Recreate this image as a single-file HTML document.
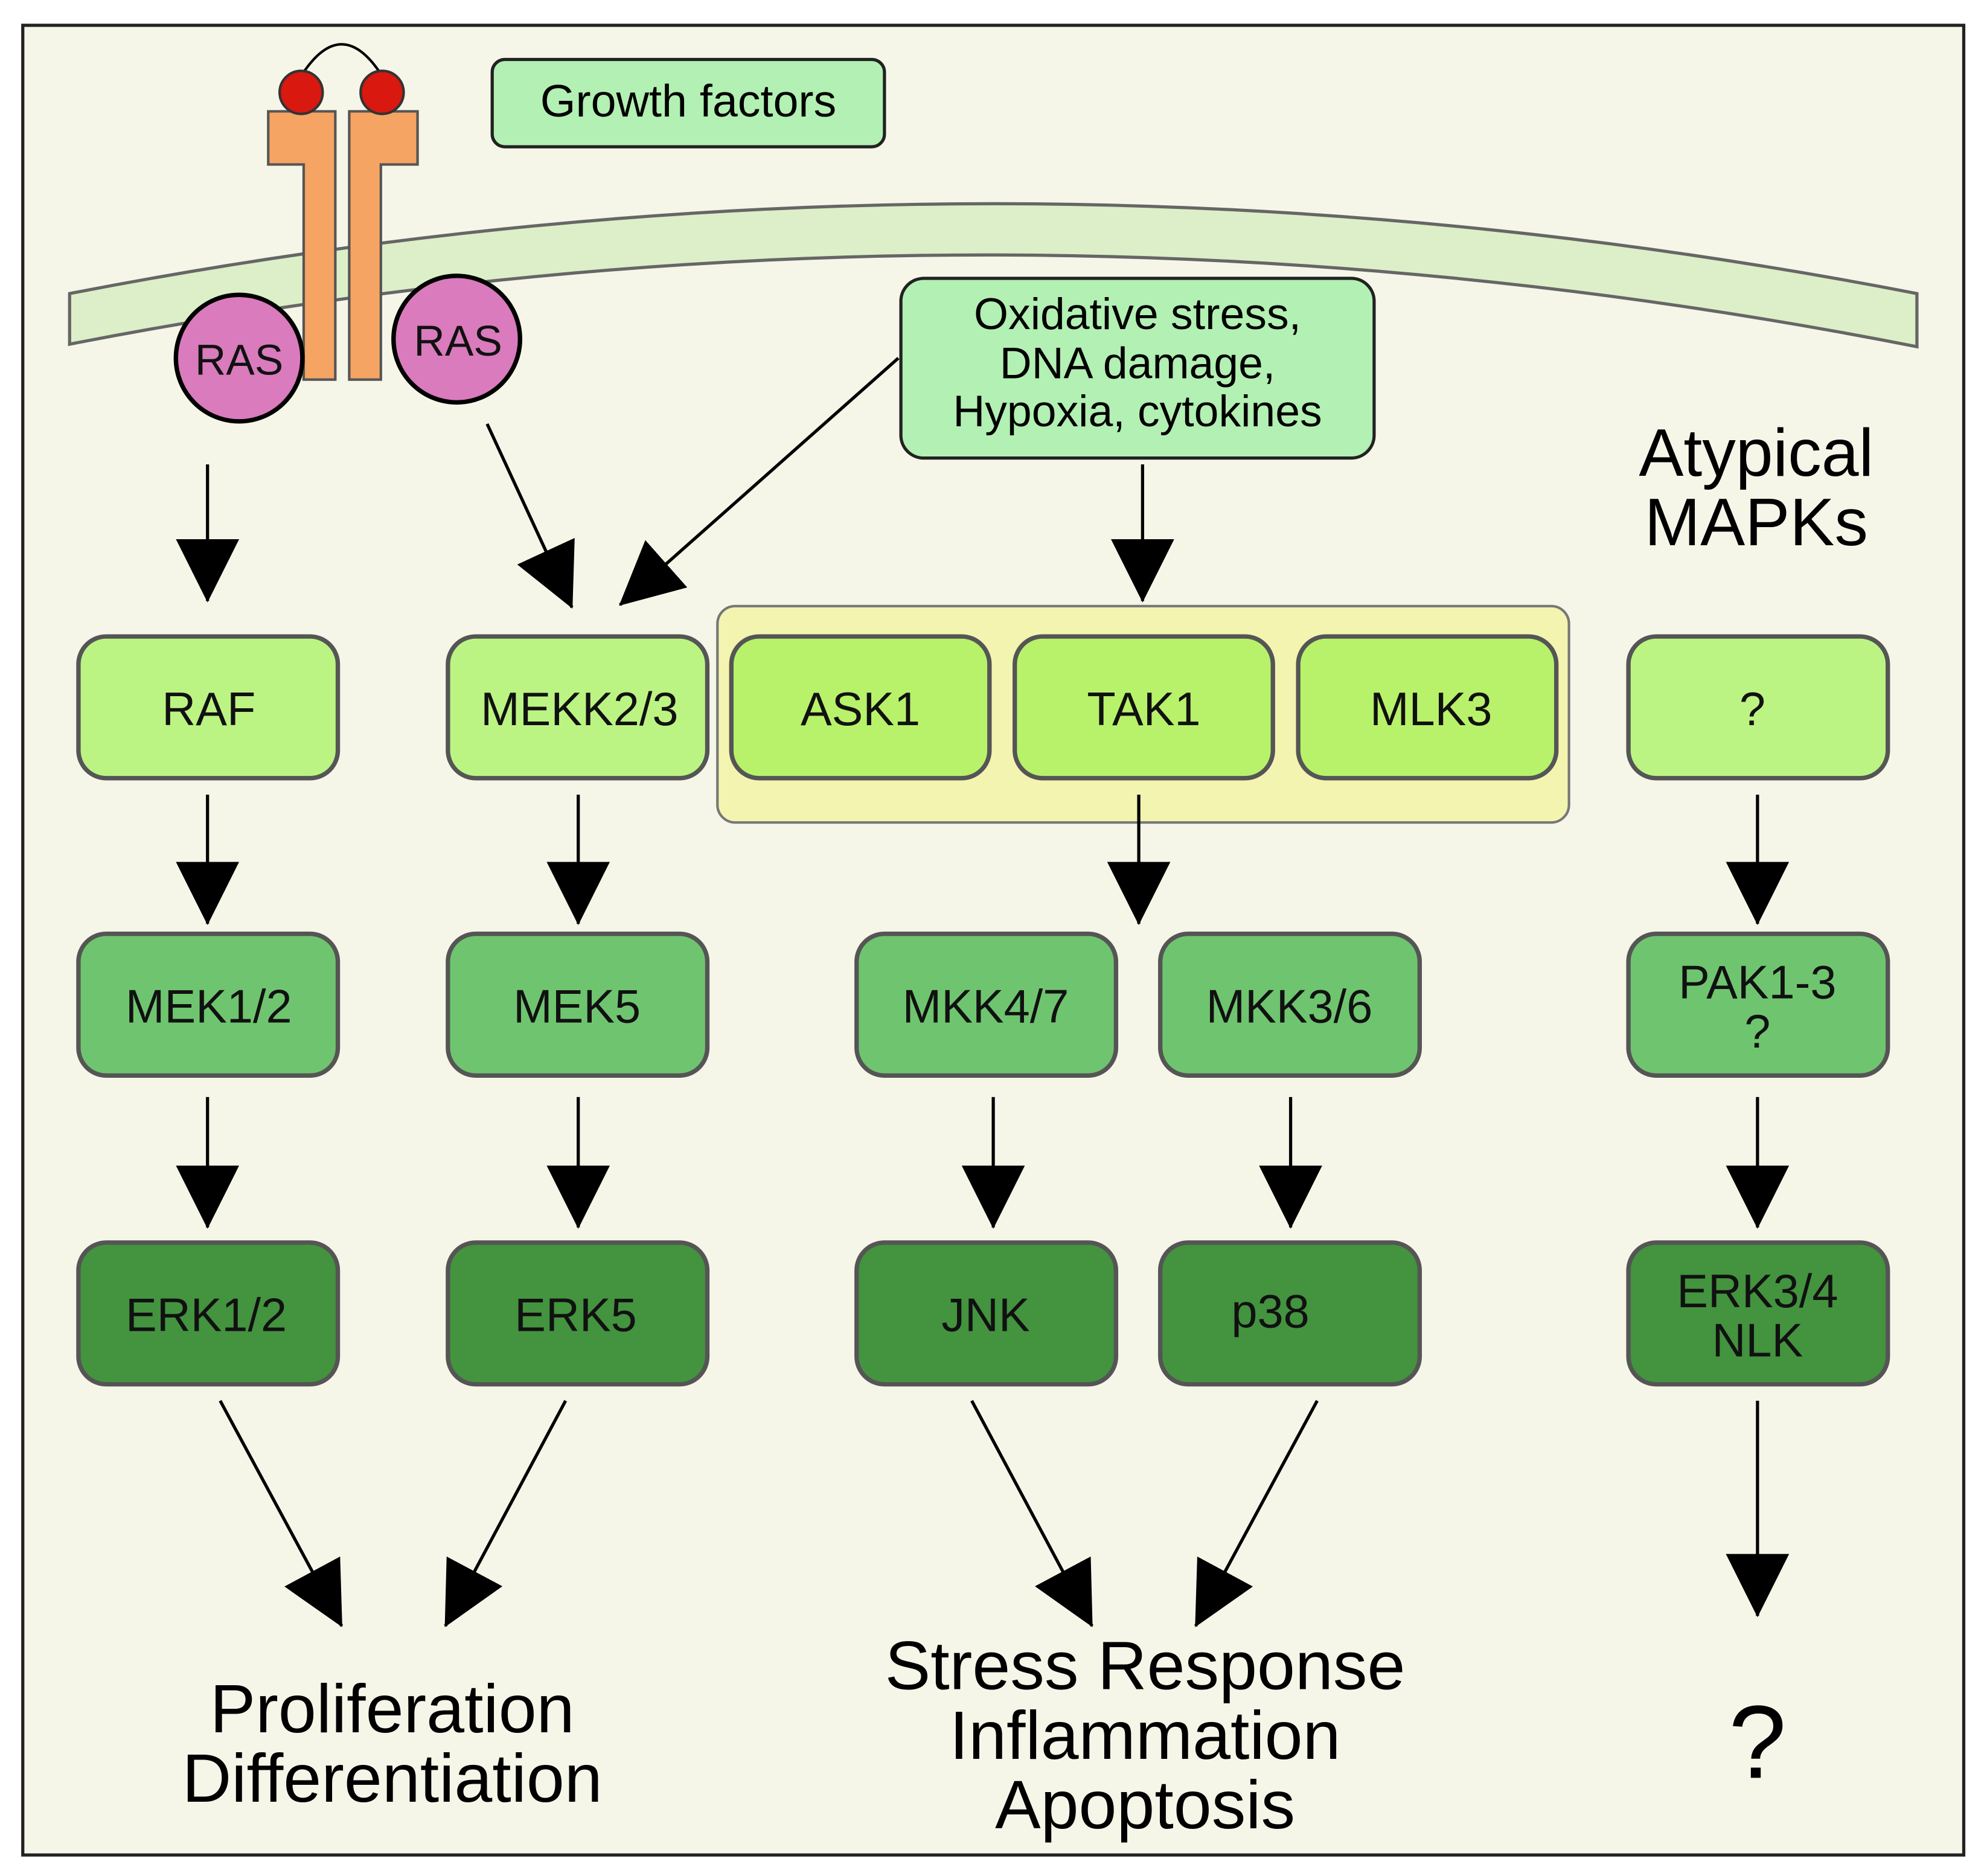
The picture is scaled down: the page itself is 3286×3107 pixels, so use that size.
<!DOCTYPE html>
<html><head><meta charset="utf-8"><style>html,body{margin:0;padding:0;background:#fff}svg{display:block}</style></head><body>
<svg width="3286" height="3107" viewBox="0 0 1568 1482.6" xmlns="http://www.w3.org/2000/svg" font-family="Liberation Sans, sans-serif">
<defs>
<marker id="a" markerUnits="userSpaceOnUse" markerWidth="50" markerHeight="50" viewBox="0 0 46 46" refX="45" refY="23" orient="auto"><path d="M0,0 L46,23 L0,46 z" fill="#000"/></marker>
</defs>
<rect x="18" y="20" width="1534" height="1446" fill="#f5f6e8" stroke="#222" stroke-width="2.5"/>
<path d="M55,232 Q785,90 1515,232 L1515,274 Q785,130 55,272 Z" fill="#dcefc8" stroke="#666" stroke-width="2.5"/>
<path d="M238,60 Q270,10 302,60" fill="none" stroke="#000" stroke-width="2"/>
<path d="M212,88 H265 V300 H240 V130 H212 Z" fill="#f6a463" stroke="#555" stroke-width="2"/>
<path d="M330,88 H276 V300 H301 V130 H330 Z" fill="#f6a463" stroke="#555" stroke-width="2"/>
<circle cx="238" cy="73" r="17" fill="#d9180f" stroke="#333" stroke-width="2"/>
<circle cx="302" cy="73" r="17" fill="#d9180f" stroke="#333" stroke-width="2"/>
<circle cx="189" cy="283" r="50" fill="#d97bbd" stroke="#000" stroke-width="3.5"/>
<circle cx="361" cy="268" r="50" fill="#d97bbd" stroke="#000" stroke-width="3.5"/>
<g font-size="34" text-anchor="middle" fill="#111">
<text x="189" y="296">RAS</text><text x="362" y="281">RAS</text>
</g>
<rect x="389" y="47" width="310" height="69" rx="10" fill="#b3f0b3" stroke="#222" stroke-width="2.5"/>
<text x="544" y="92" font-size="36" text-anchor="middle">Growth factors</text>
<rect x="712" y="220" width="374" height="142" rx="18" fill="#b3f0b3" stroke="#222" stroke-width="2.5"/>
<g font-size="35" text-anchor="middle"><text x="899" y="260">Oxidative stress,</text><text x="899" y="299">DNA damage,</text><text x="899" y="337">Hypoxia, cytokines</text></g>
<g font-size="53" text-anchor="middle"><text x="1388" y="376">Atypical</text><text x="1388" y="431">MAPKs</text></g>
<rect x="567" y="479" width="673" height="171" rx="14" fill="#f2f4b0" stroke="#777" stroke-width="2"/>
<g stroke="#555" stroke-width="3.5">
<rect x="62" y="503" width="205" height="112" rx="22" fill="#bcf484"/>
<rect x="354" y="503" width="205" height="112" rx="22" fill="#bcf484"/>
<rect x="578" y="503" width="204" height="112" rx="22" fill="#b8f26a"/>
<rect x="802" y="503" width="204" height="112" rx="22" fill="#b8f26a"/>
<rect x="1026" y="503" width="204" height="112" rx="22" fill="#b8f26a"/>
<rect x="1287" y="503" width="205" height="112" rx="22" fill="#bcf484"/>
<rect x="62" y="738" width="205" height="112" rx="22" fill="#6fc56f"/>
<rect x="354" y="738" width="205" height="112" rx="22" fill="#6fc56f"/>
<rect x="677" y="738" width="205" height="112" rx="22" fill="#6fc56f"/>
<rect x="917" y="738" width="205" height="112" rx="22" fill="#6fc56f"/>
<rect x="1287" y="738" width="205" height="112" rx="22" fill="#6fc56f"/>
<rect x="62" y="982" width="205" height="112" rx="22" fill="#43933f"/>
<rect x="354" y="982" width="205" height="112" rx="22" fill="#43933f"/>
<rect x="677" y="982" width="205" height="112" rx="22" fill="#43933f"/>
<rect x="917" y="982" width="205" height="112" rx="22" fill="#43933f"/>
<rect x="1287" y="982" width="205" height="112" rx="22" fill="#43933f"/>
</g>
<g font-size="37" text-anchor="middle" fill="#111">
<text x="165" y="573">RAF</text><text x="458" y="573">MEKK2/3</text><text x="680" y="573">ASK1</text><text x="904" y="573">TAK1</text><text x="1131" y="573">MLK3</text><text x="1385" y="573">?</text>
<text x="165" y="808">MEK1/2</text><text x="456" y="808">MEK5</text><text x="779" y="808">MKK4/7</text><text x="1019" y="808">MKK3/6</text><text x="1389" y="789">PAK1-3</text><text x="1389" y="828">?</text>
<text x="163" y="1052">ERK1/2</text><text x="455" y="1052">ERK5</text><text x="779" y="1052">JNK</text><text x="1004" y="1049">p38</text><text x="1389" y="1033">ERK3/4</text><text x="1389" y="1072">NLK</text>
</g>
<g stroke="#000" stroke-width="2.5" marker-end="url(#a)">
<line x1="164" y1="367" x2="164" y2="475"/>
<line x1="385" y1="335" x2="452" y2="480"/>
<line x1="710" y1="283" x2="490" y2="478"/>
<line x1="903" y1="367" x2="903" y2="475"/>
<line x1="164" y1="628" x2="164" y2="730"/>
<line x1="457" y1="628" x2="457" y2="730"/>
<line x1="900" y1="628" x2="900" y2="730"/>
<line x1="1389" y1="628" x2="1389" y2="730"/>
<line x1="164" y1="867" x2="164" y2="970"/>
<line x1="457" y1="867" x2="457" y2="970"/>
<line x1="785" y1="867" x2="785" y2="970"/>
<line x1="1020" y1="867" x2="1020" y2="970"/>
<line x1="1389" y1="867" x2="1389" y2="970"/>
<line x1="174" y1="1107" x2="270" y2="1285"/>
<line x1="447" y1="1107" x2="352" y2="1285"/>
<line x1="768" y1="1107" x2="863" y2="1285"/>
<line x1="1041" y1="1107" x2="945" y2="1285"/>
<line x1="1389" y1="1107" x2="1389" y2="1277"/>
</g>
<g font-size="54" text-anchor="middle" fill="#000">
<text x="310" y="1369">Proliferation</text><text x="310" y="1424">Differentiation</text>
<text x="905" y="1335">Stress Response</text><text x="905" y="1390">Inflammation</text><text x="905" y="1445">Apoptosis</text>
<text x="1389" y="1405" font-size="82">?</text>
</g>
</svg>
</body></html>
